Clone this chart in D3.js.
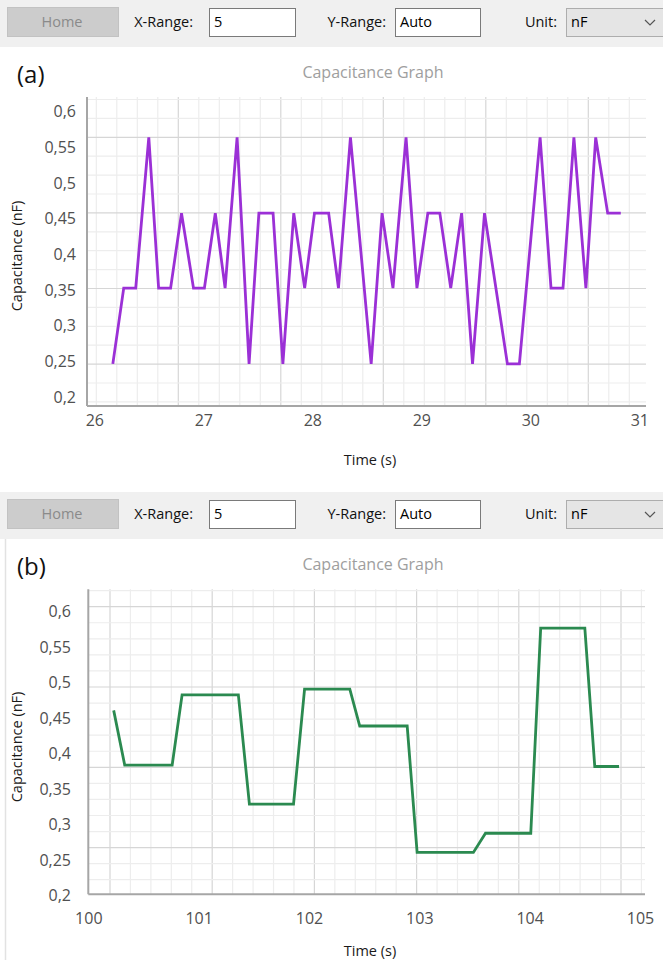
<!DOCTYPE html>
<html>
<head>
<meta charset="utf-8">
<script src="https://cdn.jsdelivr.net/npm/d3@7"></script>
<style>
  body { margin: 0; background: #fff; }
  text { font-family: "Open Sans", "Noto Sans", sans-serif; }
</style>
</head>
<body>
<div id="visualize"></div>
<script>
// Panel (a) - time (s) and capacitance (nF)
var timeA = [26.17, 26.27, 26.38, 26.50, 26.59, 26.70, 26.80, 26.91, 27.01, 27.11,
             27.20, 27.31, 27.42, 27.51, 27.64, 27.73, 27.83, 27.93, 28.02, 28.15,
             28.24, 28.35, 28.54, 28.64, 28.74, 28.86, 28.96, 29.06, 29.17, 29.27,
             29.37, 29.47, 29.58, 29.79, 29.90, 30.09, 30.19, 30.30, 30.40, 30.51,
             30.60, 30.71, 30.83];
var capA = [0.246, 0.352, 0.352, 0.563, 0.352, 0.352, 0.457, 0.352, 0.352, 0.457,
            0.352, 0.563, 0.246, 0.457, 0.457, 0.246, 0.457, 0.352, 0.457, 0.457,
            0.352, 0.563, 0.246, 0.457, 0.352, 0.563, 0.352, 0.457, 0.457, 0.352,
            0.457, 0.246, 0.457, 0.246, 0.246, 0.563, 0.352, 0.352, 0.563, 0.352,
            0.563, 0.457, 0.457];

// Panel (b)
var timeB = [100.23, 100.33, 100.76, 100.85, 101.36, 101.46, 101.86, 101.96, 102.37, 102.46,
             102.89, 102.98, 103.49, 103.60, 104.01, 104.10, 104.50, 104.59, 104.81];
var capB = [0.460, 0.383, 0.383, 0.482, 0.482, 0.328, 0.328, 0.490, 0.490, 0.438,
            0.438, 0.260, 0.260, 0.287, 0.287, 0.576, 0.576, 0.381, 0.381];

// Tick labels
var xTicksA = [26, 27, 28, 29, 30, 31];
var xTicksB = [100, 101, 102, 103, 104, 105];
var yTicks = [0.2, 0.25, 0.3, 0.35, 0.4, 0.45, 0.5, 0.55, 0.6];

// Toolbar texts
var toolbarLabels = ["X-Range:", "Y-Range:", "Unit:"];
var toolbarValues = ["5", "Auto", "nF"];

var fmt = d3.formatLocale({decimal: ",", thousands: ".", grouping: [3], currency: ["", ""]}).format(".2~f");

var svg = d3.select("#visualize").append("svg")
    .attr("width", 663)
    .attr("height", 960);

svg.append("rect").attr("width", 663).attr("height", 960).attr("fill", "#fff");

// Draw toolbar
function drawToolbar(top) {
  var g = svg.append("g").attr("transform", "translate(0," + top + ")");

  g.append("rect").attr("width", 663).attr("height", 47).attr("fill", "#f0f0f0");

  g.append("rect")
      .attr("x", 7.5).attr("y", 7.5).attr("width", 111).attr("height", 29)
      .attr("fill", "#cccccc").attr("stroke", "#c2c2c2");
  g.append("text")
      .attr("x", 62).attr("y", 22).attr("dy", "0.35em")
      .style("text-anchor", "middle")
      .style("font-size", "14.5px")
      .attr("fill", "#8a8a8a")
      .text("Home");

  var labelEnd = [193, 386, 557];
  var boxX = [209, 395, 566];
  var boxW = [86, 85, 110];
  toolbarLabels.forEach(function(d, i) {
    g.append("text")
        .attr("x", labelEnd[i]).attr("y", 22).attr("dy", "0.35em")
        .style("text-anchor", "end")
        .style("font-size", "14.5px")
        .attr("fill", "#111")
        .text(d);
    g.append("rect")
        .attr("x", boxX[i] + 0.5).attr("y", 8.5).attr("width", boxW[i]).attr("height", 28)
        .attr("fill", i == 2 ? "#e5e5e5" : "#fff")
        .attr("stroke", i == 2 ? "#adadad" : "#7a7a7a");
    g.append("text")
        .attr("x", boxX[i] + 5).attr("y", 22).attr("dy", "0.35em")
        .style("font-size", "14.5px")
        .attr("fill", "#000")
        .text(toolbarValues[i]);
  });

  g.append("path")
      .attr("d", "M645,20 L650,25 L655,20")
      .attr("fill", "none").attr("stroke", "#555").attr("stroke-width", 1.2);
}

// Draw one capacitance panel
function drawPanel(p) {
  var x = d3.scaleLinear().domain([p.xTicks[0], p.xTicks[p.xTicks.length - 1]]).range(p.xLabRange);
  var y = d3.scaleLinear().domain([0.2, 0.6]).range(p.yLabRange);

  // grid scales (one major cell = 1 unit)
  var gx = d3.scaleLinear().domain([0, 1]).range([p.gridX0, p.gridX0 + p.gridXStep]);
  var gy = d3.scaleLinear().domain([0, 1]).range([p.gridY0, p.gridY0 + p.gridYStep]);

  var grid = svg.append("g");
  var vx = d3.range(-30, 40).map(function(k) { return k / 5; })
      .filter(function(v) { return gx(v) > p.left + 2 && gx(v) < p.right - 1; });
  var hy = d3.range(-30, 40).map(function(k) { return k / p.yMinor; })
      .filter(function(v) { return gy(v) > p.top - 1 && gy(v) < p.bottom - 2; });

  grid.selectAll(".vminor").data(vx).enter().append("line")
      .attr("x1", function(d) { return gx(d); }).attr("x2", function(d) { return gx(d); })
      .attr("y1", p.top).attr("y2", p.bottom)
      .attr("stroke", function(d) { return Math.abs(d - Math.round(d)) < 1e-6 ? "#d6d6d6" : "#ededed"; })
      .attr("stroke-width", 1.2);

  grid.selectAll(".hminor").data(hy).enter().append("line")
      .attr("x1", p.left).attr("x2", p.right)
      .attr("y1", function(d) { return gy(d); }).attr("y2", function(d) { return gy(d); })
      .attr("stroke", function(d) { return Math.abs(d - Math.round(d)) < 1e-6 ? "#d6d6d6" : "#ededed"; })
      .attr("stroke-width", 1.2);

  // axis lines
  svg.append("line")
      .attr("x1", p.left).attr("x2", p.left).attr("y1", p.top).attr("y2", p.bottom)
      .attr("stroke", "#a6a6a6").attr("stroke-width", 2);
  svg.append("line")
      .attr("x1", p.left).attr("x2", p.right).attr("y1", p.bottom).attr("y2", p.bottom)
      .attr("stroke", "#a6a6a6").attr("stroke-width", 2);

  // tick labels
  var yAxis = d3.axisLeft(y).tickValues(yTicks).tickSize(0).tickPadding(0).tickFormat(fmt);
  var ya = svg.append("g")
      .attr("transform", "translate(" + p.yLabRight + ",0)")
      .call(yAxis);
  ya.select(".domain").remove();
  ya.selectAll("text")
      .attr("dy", "0.35em")
      .style("font-family", "'Open Sans', sans-serif")
      .style("font-size", "16px")
      .attr("fill", "#505050");

  var xAxis = d3.axisBottom(x).tickValues(p.xTicks).tickSize(0).tickPadding(0).tickFormat(d3.format("d"));
  var xa = svg.append("g")
      .attr("transform", "translate(0," + p.xLabY + ")")
      .call(xAxis);
  xa.select(".domain").remove();
  xa.selectAll("text")
      .attr("y", 0).attr("dy", "0.35em")
      .style("font-family", "'Open Sans', sans-serif")
      .style("font-size", "16px")
      .attr("fill", "#505050");

  // axis titles
  svg.append("text")
      .attr("transform", "translate(17," + p.yTitleY + ") rotate(-90)")
      .attr("dy", "0.35em")
      .style("text-anchor", "middle")
      .style("font-size", "14.5px")
      .attr("fill", "#1a1a1a")
      .text("Capacitance (nF)");

  svg.append("text")
      .attr("x", 370).attr("y", p.xTitleY).attr("dy", "0.35em")
      .style("text-anchor", "middle")
      .style("font-size", "14.5px")
      .attr("fill", "#1a1a1a")
      .text("Time (s)");

  // chart title and panel letter
  svg.append("text")
      .attr("x", 373).attr("y", p.titleY).attr("dy", "0.35em")
      .style("text-anchor", "middle")
      .style("font-size", "16px")
      .attr("fill", "#9e9e9e")
      .text("Capacitance Graph");

  svg.append("text")
      .attr("x", 17).attr("y", p.titleY + 3).attr("dy", "0.35em")
      .style("font-size", "24px")
      .attr("fill", "#111")
      .text(p.letter);

  // data line
  var line = d3.line()
      .x(function(d) { return x(d[0]); })
      .y(function(d) { return y(d[1]); });

  svg.append("path")
      .datum(d3.zip(p.time, p.cap))
      .attr("d", line)
      .attr("fill", "none")
      .attr("stroke", p.color)
      .attr("stroke-width", 2.8)
      .attr("stroke-linejoin", "miter");
}

drawToolbar(0);
drawToolbar(492);

// panel (b) left frame edge
svg.append("line")
    .attr("x1", 5.5).attr("x2", 5.5).attr("y1", 539).attr("y2", 960)
    .attr("stroke", "#e2e2e2").attr("stroke-width", 1.5);

drawPanel({
  letter: "(a)", time: timeA, cap: capA, xTicks: xTicksA, color: "#9b30d6",
  left: 87, right: 646, top: 97, bottom: 406,
  xLabRange: [94.3, 639.3], yLabRange: [396.7, 111],
  yLabRight: 76, xLabY: 420, yTitleY: 256, xTitleY: 460, titleY: 72,
  gridX0: 178.3, gridXStep: 102.5, gridY0: 137.3, gridYStep: 75.6, yMinor: 4
});

drawPanel({
  letter: "(b)", time: timeB, cap: capB, xTicks: xTicksB, color: "#2b8a50",
  left: 88.3, right: 645, top: 589.3, bottom: 894.3,
  xLabRange: [88.3, 640], yLabRange: [895, 611],
  yLabRight: 71, xLabY: 918, yTitleY: 747, xTitleY: 951, titleY: 564,
  gridX0: 110, gridXStep: 102.2, gridY0: 606.7, gridYStep: 80.3, yMinor: 5
});
</script>
</body>
</html>
